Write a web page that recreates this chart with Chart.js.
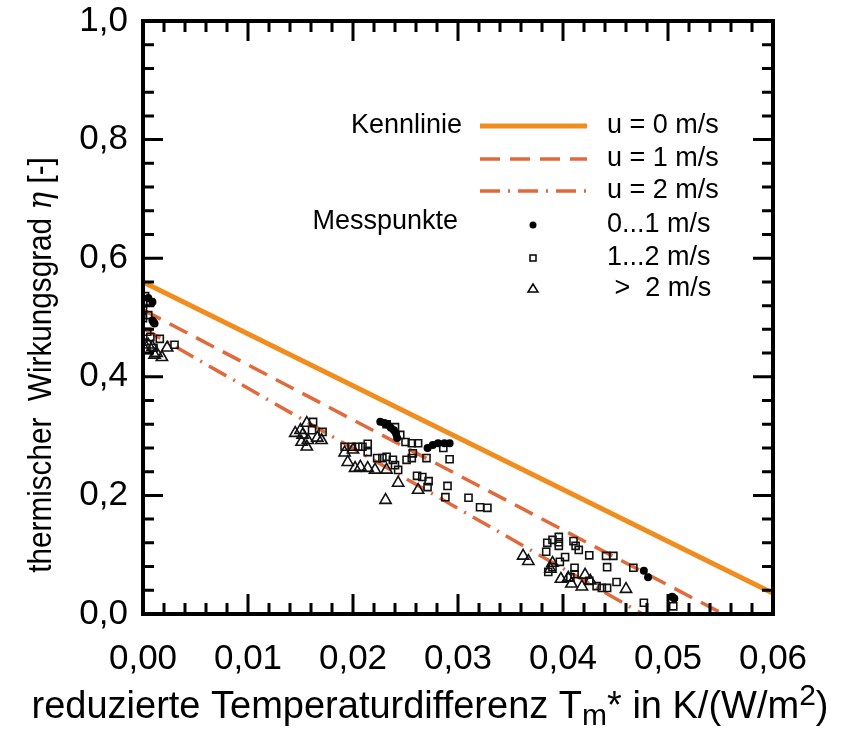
<!DOCTYPE html>
<html>
<head>
<meta charset="utf-8">
<script src="https://cdn.jsdelivr.net/npm/chart.js@4.4.1/dist/chart.umd.min.js"></script>
<style>
  body { margin: 0; background: #fff; }
  #wrap { width: 844px; height: 730px; }
</style>
</head>
<body>
<div id="wrap"><canvas id="chart" width="844" height="730"></canvas></div>
<script>
// Kennlinien (x in K/(W/m2), eta)
const lineX = [0, 0.06];
const etaU0 = [0.560, 0.035];
const etaU1 = [0.513, -0.044];
const etaU2 = [0.482, -0.126];

// Messpunkte 0...1 m/s
const dotX = [0.0005, 0.0009, 0.0009, 0.0010, 0.0011,
  0.0226, 0.0230, 0.0233, 0.0236, 0.0239, 0.0241, 0.0242,
  0.0271, 0.0276, 0.0281, 0.0287, 0.0292,
  0.0477, 0.0481, 0.0504, 0.0506];
const dotY = [0.533, 0.526, 0.495, 0.492, 0.490,
  0.324, 0.322, 0.319, 0.314, 0.310, 0.304, 0.297,
  0.280, 0.285, 0.288, 0.288, 0.288,
  0.073, 0.062, 0.029, 0.026];

// Messpunkte 1...2 m/s
const sqX = [0.0000, 0.0007, 0.0000, 0.0000, 0.0004, 0.0007, 0.0016, 0.0030, 0.0010, 0.0002, 0.0005,
  0.0162, 0.0171, 0.0161,
  0.0192, 0.0199, 0.0205, 0.0209, 0.0214, 0.0214, 0.0223, 0.0228, 0.0232, 0.0238, 0.0240, 0.0243,
  0.0232, 0.0240, 0.0245, 0.0250, 0.0256, 0.0262, 0.0257, 0.0270, 0.0292, 0.0286, 0.0256, 0.0251,
  0.0261, 0.0266, 0.0272, 0.0271, 0.0290, 0.0288, 0.0310, 0.0321, 0.0328,
  0.0385, 0.0390, 0.0396, 0.0396, 0.0396, 0.0410, 0.0412, 0.0415, 0.0384, 0.0402, 0.0397, 0.0390,
  0.0386, 0.0411, 0.0425, 0.0441, 0.0448, 0.0442, 0.0467, 0.0407, 0.0411, 0.0425, 0.0432, 0.0437,
  0.0442, 0.0451, 0.0477, 0.0505];
const sqY = [0.524, 0.526, 0.513, 0.499, 0.476, 0.467, 0.464, 0.454, 0.449, 0.536, 0.504,
  0.324, 0.307, 0.310,
  0.282, 0.282, 0.282, 0.282, 0.287, 0.273, 0.263, 0.263, 0.265, 0.260, 0.251, 0.243,
  0.320, 0.315, 0.302, 0.290, 0.288, 0.288, 0.271, 0.263, 0.261, 0.280, 0.263, 0.260,
  0.233, 0.231, 0.224, 0.214, 0.216, 0.197, 0.196, 0.180, 0.179,
  0.120, 0.125, 0.130, 0.121, 0.115, 0.123, 0.115, 0.108, 0.105, 0.096, 0.088, 0.079,
  0.071, 0.078, 0.099, 0.098, 0.098, 0.079, 0.078, 0.062, 0.067, 0.056, 0.047, 0.044,
  0.044, 0.054, 0.019, 0.013];

// Messpunkte > 2 m/s
const triX = [0.0000, 0.0005, 0.0009, 0.0013, 0.0018, 0.0023, 0.0011, 0.0002,
  0.0156, 0.0150, 0.0145, 0.0152, 0.0157, 0.0151, 0.0156, 0.0166, 0.0170,
  0.0192, 0.0200, 0.0195, 0.0202, 0.0207, 0.0214, 0.0221, 0.0232, 0.0231, 0.0243, 0.0262,
  0.0362, 0.0367, 0.0390, 0.0388, 0.0398, 0.0405, 0.0408, 0.0421, 0.0426, 0.0418, 0.0460];
const triY = [0.459, 0.454, 0.450, 0.440, 0.433, 0.449, 0.437, 0.445,
  0.322, 0.310, 0.305, 0.302, 0.293, 0.290, 0.282, 0.297, 0.293,
  0.272, 0.277, 0.256, 0.246, 0.248, 0.246, 0.243, 0.243, 0.192, 0.221, 0.209,
  0.098, 0.089, 0.086, 0.076, 0.059, 0.061, 0.051, 0.066, 0.056, 0.046, 0.042];

const xTicks = [0, 0.01, 0.02, 0.03, 0.04, 0.05, 0.06];
const yTicks = [0, 0.2, 0.4, 0.6, 0.8, 1.0];

const ORANGE = '#f18d1e';
const RED = '#e2693c';
const FONT = '"Liberation Sans", Arial, sans-serif';

const pts = (xs, ys) => xs.map((x, i) => ({ x: x, y: ys[i] }));

// frame, inward ticks, axis titles
const framePlugin = {
  id: 'frame',
  afterDatasetsDraw(chart) {
    const ctx = chart.ctx;
    const a = chart.chartArea;
    const xs = chart.scales.x, ys = chart.scales.y;
    ctx.save();
    ctx.strokeStyle = '#000';
    ctx.lineWidth = 3;
    ctx.lineCap = 'butt';
    ctx.beginPath();
    for (let i = 0; i <= 30; i++) {
      const px = xs.getPixelForValue(i * 0.002);
      const len = i % 5 === 0 ? 20 : 11;
      ctx.moveTo(px, a.bottom); ctx.lineTo(px, a.bottom - len);
      ctx.moveTo(px, a.top); ctx.lineTo(px, a.top + len);
    }
    for (let i = 0; i <= 25; i++) {
      const py = ys.getPixelForValue(i * 0.04);
      const len = i % 5 === 0 ? 20 : 11;
      ctx.moveTo(a.left, py); ctx.lineTo(a.left + len, py);
      ctx.moveTo(a.right, py); ctx.lineTo(a.right - len, py);
    }
    ctx.stroke();
    ctx.lineWidth = 4;
    ctx.strokeRect(a.left, a.top, a.right - a.left, a.bottom - a.top);

    // y title, slightly condensed like the original
    ctx.fillStyle = '#000';
    ctx.save();
    ctx.translate(42, 365);
    ctx.rotate(-Math.PI / 2);
    ctx.scale(0.9, 1);
    ctx.textBaseline = 'middle';
    const yParts = [
      ['thermischer  Wirkungsgrad ', '33px ' + FONT],
      ['η', 'italic 33px "DejaVu Serif", serif'],
      [' [-]', '33px ' + FONT]
    ];
    let w = 0;
    yParts.forEach(p => { ctx.font = p[1]; w += ctx.measureText(p[0]).width; });
    let cx = -w / 2;
    ctx.textAlign = 'left';
    yParts.forEach(p => { ctx.font = p[1]; ctx.fillText(p[0], cx, 0); cx += ctx.measureText(p[0]).width; });
    ctx.restore();

    // x title with sub/superscript
    const xParts = [
      ['reduzierte Temperaturdifferenz T', '38px ' + FONT, 0],
      ['m', '30px ' + FONT, 7],
      ['* in K/(W/m', '38px ' + FONT, 0],
      ['2', '30px ' + FONT, -13],
      [')', '38px ' + FONT, 0]
    ];
    w = 0;
    xParts.forEach(p => { ctx.font = p[1]; w += ctx.measureText(p[0]).width; });
    cx = 430 - w / 2;
    ctx.textBaseline = 'alphabetic';
    ctx.textAlign = 'left';
    xParts.forEach(p => { ctx.font = p[1]; ctx.fillText(p[0], cx, 718 + p[2]); cx += ctx.measureText(p[0]).width; });
    ctx.restore();
  }
};

// legend inside the plot
const legendPlugin = {
  id: 'innerLegend',
  afterDraw(chart) {
    const ctx = chart.ctx;
    ctx.save();
    ctx.font = '27px ' + FONT;
    ctx.fillStyle = '#000';
    ctx.textBaseline = 'middle';
    ctx.textAlign = 'right';
    ctx.fillText('Kennlinie', 462, 126);
    ctx.fillText('Messpunkte', 458, 222);
    ctx.textAlign = 'left';
    const rows = [
      ['u = 0 m/s', 126], ['u = 1 m/s', 159], ['u = 2 m/s', 191],
      ['0...1 m/s', 225], ['1...2 m/s', 258], [' >  2 m/s', 289]
    ];
    rows.forEach(r => ctx.fillText(r[0], 607, r[1]));
    const lines = [[ORANGE, 5, [], 126], [RED, 3.5, [20, 10], 159], [RED, 3.5, [20, 8, 2, 8], 191]];
    lines.forEach(l => {
      ctx.strokeStyle = l[0]; ctx.lineWidth = l[1]; ctx.setLineDash(l[2]);
      ctx.beginPath(); ctx.moveTo(480, l[3]); ctx.lineTo(587, l[3]); ctx.stroke();
    });
    ctx.setLineDash([]);
    ctx.beginPath(); ctx.arc(533, 225, 3.5, 0, Math.PI * 2); ctx.fill();
    ctx.strokeStyle = '#000'; ctx.lineWidth = 1.5;
    ctx.strokeRect(530, 255, 6, 6);
    ctx.beginPath(); ctx.moveTo(533, 284); ctx.lineTo(538, 292); ctx.lineTo(528, 292); ctx.closePath(); ctx.stroke();
    ctx.restore();
  }
};

new Chart(document.getElementById('chart'), {
  type: 'scatter',
  data: {
    datasets: [
      { data: pts(dotX, dotY), pointStyle: 'circle', pointRadius: 4, backgroundColor: '#000', borderColor: '#000', borderWidth: 0 },
      { data: pts(sqX, sqY), pointStyle: 'rect', pointRadius: 5, backgroundColor: 'rgba(0,0,0,0)', borderColor: '#111', borderWidth: 1.6 },
      { data: pts(triX, triY), pointStyle: 'triangle', pointRadius: 6.5, backgroundColor: 'rgba(0,0,0,0)', borderColor: '#111', borderWidth: 1.6 },
      { type: 'line', data: pts(lineX, etaU0), borderColor: ORANGE, borderWidth: 5, pointRadius: 0, fill: false },
      { type: 'line', data: pts(lineX, etaU1), borderColor: RED, borderWidth: 3.5, borderDash: [20, 10], pointRadius: 0, fill: false },
      { type: 'line', data: pts(lineX, etaU2), borderColor: RED, borderWidth: 3.5, borderDash: [20, 8, 2, 8], pointRadius: 0, fill: false }
    ]
  },
  options: {
    responsive: false,
    animation: false,
    layout: { padding: { top: 21, right: 71, left: 0, bottom: 0 } },
    plugins: { legend: { display: false }, tooltip: { enabled: false } },
    scales: {
      x: {
        type: 'linear', min: 0, max: 0.06,
        afterFit: s => { s.height = 116; s.paddingLeft = 0; s.paddingRight = 0; },
        afterBuildTicks: s => { s.ticks = xTicks.map(v => ({ value: v })); },
        grid: { display: false, drawTicks: false },
        border: { display: false },
        ticks: { padding: 24, color: '#000', font: { size: 35, family: FONT }, maxRotation: 0,
          callback: v => v.toFixed(2).replace('.', ',') }
      },
      y: {
        type: 'linear', min: 0, max: 1,
        afterFit: s => { s.width = 143; s.paddingTop = 0; s.paddingBottom = 0; },
        afterBuildTicks: s => { s.ticks = yTicks.map(v => ({ value: v })); },
        grid: { display: false, drawTicks: false },
        border: { display: false },
        ticks: { padding: 15, color: '#000', font: { size: 35, family: FONT },
          callback: v => v.toFixed(1).replace('.', ',') }
      }
    }
  },
  plugins: [framePlugin, legendPlugin]
});
</script>
</body>
</html>
